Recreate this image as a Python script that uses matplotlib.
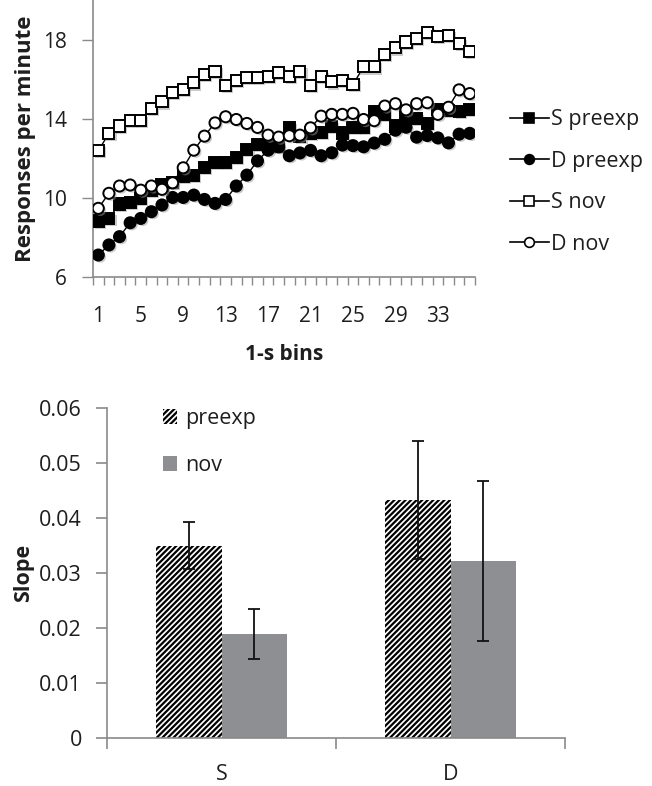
import numpy as np
import matplotlib
matplotlib.use("Agg")
import matplotlib.pyplot as plt
import matplotlib.patheffects as pe

plt.rcParams['font.family'] = ['Open Sans', 'DejaVu Sans']
plt.rcParams['hatch.linewidth'] = 1.6

# top panel: responses per minute over 1-s bins
bins = np.arange(1, 37)
s_preexp = [8.83, 8.96, 9.69, 9.77, 9.97, 10.36, 10.65, 10.76, 11.10, 11.15, 11.52, 11.79,
            11.79, 12.03, 12.45, 12.70, 12.62, 12.62, 13.55, 13.10, 13.28, 13.29, 13.59, 13.28,
            13.56, 13.58, 14.38, 14.20, 13.63, 14.14, 14.00, 13.78, 14.45, 14.40, 14.38, 14.47]
d_preexp = [7.11, 7.62, 8.04, 8.74, 8.96, 9.30, 9.64, 10.02, 10.02, 10.14, 9.92, 9.72,
            9.92, 10.60, 11.15, 11.87, 12.41, 12.58, 12.13, 12.27, 12.40, 12.13, 12.28, 12.67,
            12.64, 12.58, 12.77, 12.96, 13.42, 13.57, 13.07, 13.15, 13.03, 12.78, 13.22, 13.26]
s_nov = [12.38, 13.26, 13.63, 13.93, 13.90, 14.52, 14.85, 15.31, 15.48, 15.81, 16.24, 16.40,
         15.70, 15.95, 16.07, 16.07, 16.15, 16.35, 16.15, 16.37, 15.70, 16.12, 15.86, 15.95,
         15.73, 16.62, 16.62, 17.25, 17.58, 17.88, 18.06, 18.36, 18.17, 18.22, 17.80, 17.38]
d_nov = [9.47, 10.23, 10.60, 10.65, 10.39, 10.60, 10.43, 10.76, 11.52, 12.41, 13.12, 13.79,
         14.10, 13.96, 13.76, 13.56, 13.17, 13.07, 13.14, 13.17, 13.54, 14.13, 14.22, 14.22,
         14.27, 13.96, 13.90, 14.64, 14.76, 14.45, 14.76, 14.81, 14.22, 14.58, 15.46, 15.27]
xtick_labels = [1, 5, 9, 13, 17, 21, 25, 29, 33]

# bottom panel: slopes
groups = ["S", "D"]
slope_preexp = [0.0350, 0.0433]
err_preexp = [0.0043, 0.0107]
slope_nov = [0.0189, 0.0322]
err_nov = [0.0045, 0.0145]

axis_col = "#8a8a8a"
txt_col = "#1e1e1e"
fs = 15

fig = plt.figure(figsize=(6.52, 7.86), dpi=100)

# ---------------- top ----------------
ax1 = fig.add_axes([93 / 652, 1 - 277 / 786, 382 / 652, 277 / 786])
shadow = [pe.SimplePatchShadow(offset=(1.5, -1.5), shadow_rgbFace="#999999", alpha=0.5), pe.Normal()]
series = [(s_preexp, "s", "black", "S preexp"),
          (d_preexp, "o", "black", "D preexp"),
          (s_nov, "s", "white", "S nov"),
          (d_nov, "o", "white", "D nov")]
handles = []
for vals, m, fc, lab in series:
    ax1.plot(bins, vals, color="black", lw=1.0, zorder=2)
    ax1.plot(bins, vals, ls="none", marker=m, ms=8, mfc=fc, mec="black", mew=1.4,
             path_effects=shadow, zorder=3)
    h, = ax1.plot([], [], color="black", lw=1.2, marker=m, ms=7, mfc=fc, mec="black", mew=1.2)
    handles.append(h)

ax1.set_xlim(0.5, 36.5)
ax1.set_ylim(6, 20)
ax1.set_yticks([6, 10, 14, 18])
ax1.set_xticks(xtick_labels)
ax1.set_xticks(np.arange(0.5, 37, 1), minor=True)
ax1.tick_params(axis="x", which="major", length=0, pad=21, labelsize=fs, labelcolor=txt_col)
ax1.tick_params(axis="x", which="minor", length=6, color=axis_col, width=1)
ax1.tick_params(axis="y", length=8, color=axis_col, width=1, pad=11, labelsize=fs, labelcolor=txt_col)
for s in ["top", "right"]:
    ax1.spines[s].set_visible(False)
for s in ["left", "bottom"]:
    ax1.spines[s].set_color(axis_col)
    ax1.spines[s].set_linewidth(1.2)
ax1.set_xlabel("1-s bins", fontsize=fs, fontweight="bold", color=txt_col, labelpad=12)
ax1.set_ylabel("Responses per minute", fontsize=16, fontweight="bold", color=txt_col, labelpad=5)
ax1.legend(handles, [s[3] for s in series], loc="center left",
           bbox_to_anchor=(510 / 652, 1 - 182 / 786), bbox_transform=fig.transFigure,
           frameon=False, fontsize=fs + 0.5, handlelength=1.8, handletextpad=0.1,
           labelspacing=0.95, borderpad=0, borderaxespad=0, labelcolor=txt_col)

# ---------------- bottom ----------------
ax2 = fig.add_axes([107 / 652, 1 - 738 / 786, 458 / 652, 330 / 786])
x = np.arange(len(groups))
w = 0.284
ax2.bar(x - w / 2, slope_preexp, w, facecolor="white", edgecolor="black",
        hatch="//////", linewidth=0, label="preexp", zorder=2)
ax2.bar(x + w / 2, slope_nov, w, color="#8e8f93", linewidth=0, label="nov", zorder=2)
ax2.errorbar(x - w / 2, slope_preexp, yerr=err_preexp, fmt="none", ecolor="#111111",
             elinewidth=1.3, capsize=4, capthick=1.3, zorder=4)
ax2.errorbar(x + w / 2, slope_nov, yerr=err_nov, fmt="none", ecolor="#111111",
             elinewidth=1.3, capsize=4, capthick=1.3, zorder=4)

ax2.set_xlim(-0.5, 1.5)
ax2.set_ylim(0, 0.06)
ax2.set_yticks([0, 0.01, 0.02, 0.03, 0.04, 0.05, 0.06])
ax2.set_yticklabels(["0", "0.01", "0.02", "0.03", "0.04", "0.05", "0.06"])
ax2.set_xticks(x)
ax2.set_xticklabels(groups)
ax2.set_xticks([-0.5, 0.5, 1.5], minor=True)
ax2.tick_params(axis="x", which="major", length=0, pad=19, labelsize=fs + 0.5, labelcolor=txt_col)
ax2.tick_params(axis="x", which="minor", length=8, color=axis_col, width=1.2)
ax2.tick_params(axis="y", length=8, color=axis_col, width=1.2, pad=10, labelsize=fs + 0.5,
                labelcolor=txt_col)
for s in ["top", "right"]:
    ax2.spines[s].set_visible(False)
for s in ["left", "bottom"]:
    ax2.spines[s].set_color(axis_col)
    ax2.spines[s].set_linewidth(1.2)
ax2.set_ylabel("Slope", fontsize=fs + 0.5, fontweight="bold", color=txt_col, labelpad=4)
ax2.legend(loc="center left", bbox_to_anchor=(163 / 652, 1 - 442 / 786),
           bbox_transform=fig.transFigure, frameon=False, fontsize=fs + 0.5,
           handlelength=0.65, handleheight=0.65, handletextpad=0.4,
           labelspacing=1.2, borderpad=0, borderaxespad=0, labelcolor=txt_col)

fig.savefig("out.png", dpi=100)
